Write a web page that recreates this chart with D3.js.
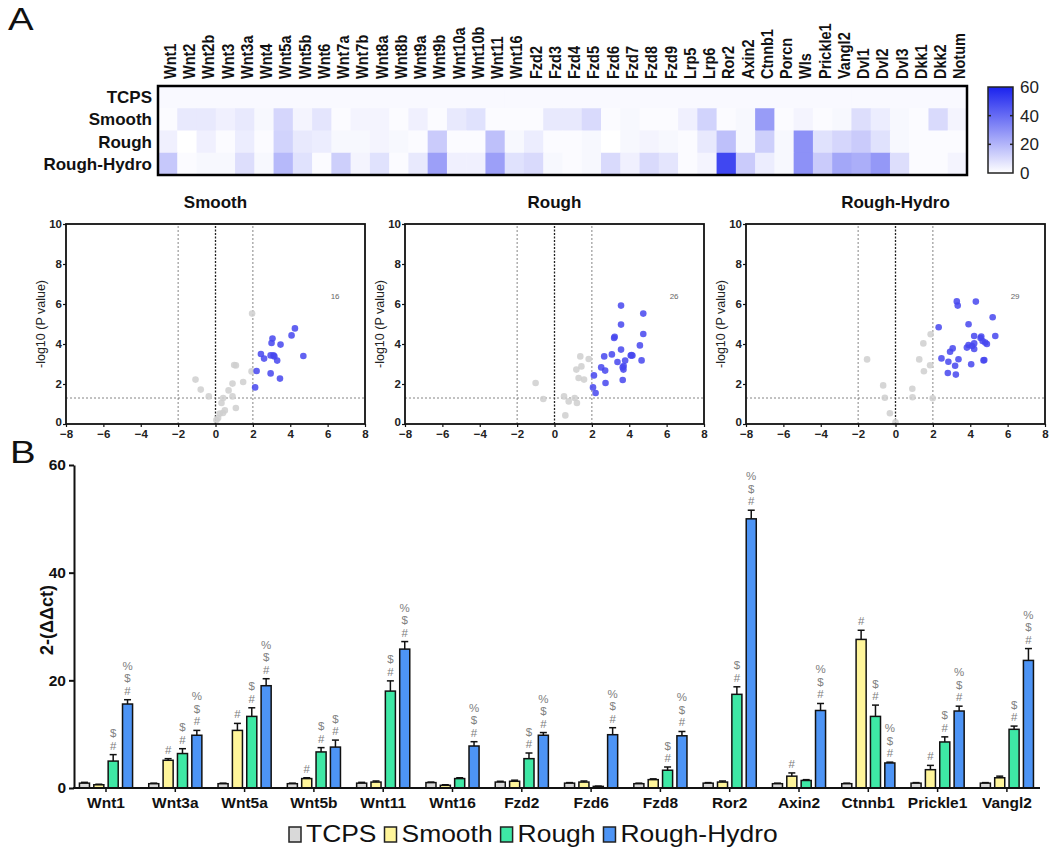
<!DOCTYPE html>
<html><head><meta charset="utf-8">
<script src="https://cdn.jsdelivr.net/npm/d3@7"></script>
<style>body{margin:0;background:#fff} svg{display:block;font-family:Arial,"Liberation Sans",Helvetica,sans-serif}</style>
</head><body><svg id="c" width="1050" height="865"></svg>
<script>
// ---------------- Heatmap data ----------------
const heatGenes = ["Wnt1","Wnt2","Wnt2b","Wnt3","Wnt3a","Wnt4","Wnt5a","Wnt5b","Wnt6","Wnt7a","Wnt7b","Wnt8a","Wnt8b","Wnt9a","Wnt9b","Wnt10a","Wnt10b","Wnt11","Wnt16","Fzd2","Fzd3","Fzd4","Fzd5","Fzd6","Fzd7","Fzd8","Fzd9","Lrp5","Lrp6","Ror2","Axin2","Ctnnb1","Porcn","Wls","Prickle1","Vangl2","Dvl1","Dvl2","Dvl3","Dkk1","Dkk2","Notum"];
const heatRows = ["TCPS","Smooth","Rough","Rough-Hydro"];
const heatTCPS   = [1.5,1.5,1.5,1.5,1.5,1.5,1.5,1.5,1.5,1.5,1.5,1.5,1.5,1.5,1.5,1.5,1.5,1.5,1.5,1.5,1.5,1.5,1.5,1.5,1.5,1.5,1.5,1.5,1.5,1.5,1.5,1.5,1.5,1.5,1.5,1.5,1.5,1.5,1.5,1.5,1.5,1.5];
const heatSmooth = [1,6,6,4,6,2,11,3,7,1,3,3,1,4,1,6,8,1,1,1,6,6,10,1,2,1,1,4,12,1,2,27,1,3,1,2,9,5,2,1,10,3];
const heatRough  = [4,0,4,1,5,1,12,6,5,2,2,3,2,1,14,1,1,17,2,5,1,1,2,0,2,3,2,1,6,17,2,13,2,30,8,11,14,8,2,1,1,1];
const heatRH     = [15,1,2,2,9,2,19,8,1,13,3,8,1,6,26,4,4,26,8,10,2,1,2,10,4,10,7,1,3,50,14,5,2,30,14,24,22,28,9,1,1,3];
const colorTicks = [0,20,40,60];

// ---------------- Volcano data ([log2FC, -log10 P]) ----------------
const smoothSig = [[4.25,4.78],[4.07,4.43],[3.0,4.05],[3.05,4.27],[3.48,3.97],[2.43,3.5],[2.6,3.27],[2.95,3.43],[3.1,3.43],[3.3,3.17],[4.7,3.4],[2.2,2.65],[2.95,2.53],[3.45,2.27],[2.12,1.83],[3.15,3.38]];
const smoothNS  = [[1.96,5.52],[1.09,2.93],[1.0,2.95],[1.93,2.63],[1.48,2.1],[0.91,2.02],[-1.07,2.22],[-0.79,1.72],[0.7,1.68],[-0.36,1.38],[0.91,1.38],[0.41,1.3],[0.32,1.05],[0.5,0.68],[0.23,0.52],[0.14,0.3],[1.09,0.8],[0.05,0.2],[0.4,0.55]];
const roughSig  = [[3.56,5.92],[4.75,5.52],[3.56,4.97],[3.19,4.3],[3.22,4.36],[4.75,4.5],[4.57,3.93],[3.56,3.72],[3.07,3.48],[2.66,3.38],[4.08,3.42],[4.17,3.42],[3.37,3.1],[3.78,3.17],[4.66,3.18],[2.5,2.83],[2.71,2.67],[3.65,2.83],[3.69,2.72],[2.11,2.43],[3.65,2.2],[2.73,2.05],[2.06,1.83],[2.2,1.55],[3.7,2.9],[4.12,3.45]];
const roughNS   = [[1.38,3.38],[1.44,2.88],[1.83,3.25],[1.17,2.72],[1.29,2.3],[1.58,2.22],[-1.01,2.05],[-0.6,1.25],[0.51,1.38],[0.76,1.13],[1.08,1.3],[1.2,1.05],[0.58,0.43]];
const rhSig     = [[3.28,6.13],[4.3,6.12],[3.33,5.92],[5.2,5.34],[2.31,4.84],[3.91,4.99],[4.21,4.4],[4.59,4.37],[5.34,4.4],[4.66,4.15],[4.8,4.07],[4.89,4.0],[4.21,4.03],[3.91,3.95],[3.82,3.82],[4.21,3.75],[3.06,3.78],[2.92,3.61],[2.46,3.28],[3.37,3.24],[4.71,3.18],[4.05,2.99],[2.83,3.11],[3.19,2.91],[2.8,2.55],[3.23,2.47],[4.55,4.3],[4.1,3.9],[4.75,3.2]];
const rhNS      = [[1.88,4.49],[1.49,4.03],[1.27,3.23],[-1.52,3.23],[1.85,2.94],[1.52,2.64],[-0.66,1.93],[0.9,1.76],[-0.57,1.31],[0.91,1.34],[1.99,1.29],[-0.3,0.54],[0,0.08]];
const volcanoTitles = ["Smooth","Rough","Rough-Hydro"];
const volcanoCounts = ["16","26","29"];
const volcanoXTicks = [-8,-6,-4,-2,0,2,4,6,8];
const volcanoYTicks = [0,2,4,6,8,10];

// ---------------- Bar chart data ----------------
const barGenes = ["Wnt1","Wnt3a","Wnt5a","Wnt5b","Wnt11","Wnt16","Fzd2","Fzd6","Fzd8","Ror2","Axin2","Ctnnb1","Prickle1","Vangl2"];
const seriesNames = ["TCPS","Smooth","Rough","Rough-Hydro"];
const tcpsVals   = [0.9,0.8,0.8,0.8,0.9,1.0,1.1,0.9,0.8,0.9,0.8,0.8,0.9,0.9];
const tcpsErr    = [0.15,0.1,0.1,0.1,0.15,0.1,0.15,0.1,0.1,0.1,0.1,0.1,0.1,0.1];
const smoothVals = [0.6,5.15,10.7,1.75,1.1,0.5,1.25,1.1,1.55,1.1,2.2,27.6,3.4,1.9];
const smoothErr  = [0.1,0.3,1.3,0.15,0.2,0.1,0.2,0.2,0.15,0.2,0.6,1.7,0.8,0.3];
const roughVals  = [5.0,6.4,13.3,6.7,18.0,1.75,5.45,0.3,3.3,17.4,1.4,13.3,8.55,10.9];
const roughErr   = [1.2,0.9,1.6,0.8,1.9,0.15,1.05,0.05,0.6,1.4,0.15,2.1,0.95,0.6];
const rhVals     = [15.6,9.8,19.0,7.6,25.8,7.8,9.8,9.9,9.7,50.0,14.4,4.65,14.3,23.7];
const rhErr      = [0.8,0.9,1.3,1.3,1.4,0.8,0.5,1.3,0.8,1.6,1.3,0.15,0.9,2.2];
const tcpsMarks   = ["","","","","","","","","","","","","",""];
const smoothMarks = ["","#","#","#","","","","","","","#","#","#",""];
const roughMarks  = ["#$","#$","#$","#$","#$","","#$","","#$","#$","","#$","#$","#$"];
const rhMarks     = ["#$%","#$%","#$%","#$","#$%","#$%","#$%","#$%","#$%","#$%","#$%","#$%","#$%","#$%"];
const barYTicks = [0,20,40,60];
const seriesColors = ["#d9d9d9","#fff59a","#3ee8a5","#4d94f5"];

// ================= drawing =================
const svg = d3.select("#c");
svg.append("rect").attr("width",1050).attr("height",865).attr("fill","#fff");

svg.append("text").attr("transform","translate(8,30) scale(1.2,1)").attr("font-size",32).attr("fill","#111").text("A");
svg.append("text").attr("transform","translate(10,463) scale(1.2,1)").attr("font-size",32).attr("fill","#111").text("B");

// ---- Heatmap ----
const hx = d3.scaleBand().domain(heatGenes).range([158,967]);
const hy = d3.scaleBand().domain(heatRows).range([86,175]);
const hColor = d3.scaleLinear().domain([0,60]).range(["#ffffff","#1a22ee"]);
const heatValues = [heatTCPS, heatSmooth, heatRough, heatRH];
const heatCells = [];
heatRows.forEach((r,ri)=>heatGenes.forEach((g,gi)=>heatCells.push({r,g,v:heatValues[ri][gi]})));
svg.append("g").selectAll("rect").data(heatCells).join("rect")
  .attr("x",d=>hx(d.g)).attr("y",d=>hy(d.r))
  .attr("width",hx.bandwidth()+0.6).attr("height",hy.bandwidth()+0.6)
  .attr("fill",d=>hColor(d.v));
svg.append("rect").attr("x",158).attr("y",86).attr("width",809).attr("height",89)
  .attr("fill","none").attr("stroke","#000").attr("stroke-width",2.5);
svg.append("g").selectAll("text").data(heatGenes).join("text")
  .attr("transform",d=>`translate(${hx(d)+hx.bandwidth()/2+2},79) scale(1.2,1) rotate(-90)`)
  .attr("dy","0.35em").attr("font-size",14.5).attr("font-weight","bold").attr("fill","#111").text(d=>d);
svg.append("g").selectAll("text").data(heatRows).join("text")
  .attr("x",152).attr("y",d=>hy(d)+hy.bandwidth()/2+6)
  .attr("text-anchor","end").attr("font-size",17).attr("font-weight","bold").attr("fill","#111").text(d=>d);

// colour bar
const defs = svg.append("defs");
const grad = defs.append("linearGradient").attr("id","cb").attr("x1",0).attr("x2",0).attr("y1",1).attr("y2",0);
grad.append("stop").attr("offset","0%").attr("stop-color",hColor(0));
grad.append("stop").attr("offset","100%").attr("stop-color",hColor(60));
const cScale = d3.scaleLinear().domain([0,60]).range([173,87]);
svg.append("rect").attr("x",988).attr("y",87).attr("width",25).attr("height",86)
  .attr("fill","url(#cb)").attr("stroke","#222").attr("stroke-width",1.5);
colorTicks.forEach(t=>{
  if(t>0 && t<60){
    svg.append("line").attr("x1",988).attr("x2",991).attr("y1",cScale(t)).attr("y2",cScale(t)).attr("stroke","#222").attr("stroke-width",1.5);
    svg.append("line").attr("x1",1010).attr("x2",1013).attr("y1",cScale(t)).attr("y2",cScale(t)).attr("stroke","#222").attr("stroke-width",1.5);
  }
  svg.append("text").attr("x",1020).attr("y",cScale(t)+6).attr("font-size",17).attr("fill","#222").text(t);
});

// ---- Volcano plots ----
const volcanoSig = [smoothSig, roughSig, rhSig];
const volcanoNS = [smoothNS, roughNS, rhNS];
const volcanoLeft = [66, 405, 746];
volcanoTitles.forEach((title,pi)=>{
  const L = volcanoLeft[pi];
  const x = d3.scaleLinear().domain([-8,8]).range([L, L+299]);
  const y = d3.scaleLinear().domain([0,10]).range([424,224]);
  const g = svg.append("g");
  g.append("text").attr("x",x(0)).attr("y",208).attr("text-anchor","middle")
    .attr("font-size",17).attr("font-weight","bold").attr("fill","#111").text(title);
  [-2,2].forEach(v=>g.append("line").attr("x1",x(v)).attr("x2",x(v)).attr("y1",y(0)).attr("y2",y(10))
    .attr("stroke","#777").attr("stroke-width",0.9).attr("stroke-dasharray","2,2"));
  g.append("line").attr("x1",x(0)).attr("x2",x(0)).attr("y1",y(0)).attr("y2",y(10))
    .attr("stroke","#222").attr("stroke-width",1.3).attr("stroke-dasharray","2,1.5");
  g.append("line").attr("x1",x(-8)).attr("x2",x(8)).attr("y1",y(1.3)).attr("y2",y(1.3))
    .attr("stroke","#777").attr("stroke-width",0.9).attr("stroke-dasharray","2,2");
  g.append("g").selectAll("circle").data(volcanoNS[pi]).join("circle")
    .attr("cx",d=>x(d[0])).attr("cy",d=>y(d[1])).attr("r",3.3).attr("fill","#cfcfcf").attr("opacity",0.85);
  g.append("g").selectAll("circle").data(volcanoSig[pi]).join("circle")
    .attr("cx",d=>x(d[0])).attr("cy",d=>y(d[1])).attr("r",3.3).attr("fill","#4646ef").attr("opacity",0.85);
  g.append("g").attr("opacity",0.99).append("text").attr("x",x(6.4)).attr("y",y(6.4)+3).attr("text-anchor","middle")
    .attr("font-size",8).attr("fill","#666").text(volcanoCounts[pi]);
  g.append("rect").attr("x",x(-8)).attr("y",y(10)).attr("width",x(8)-x(-8)).attr("height",y(0)-y(10))
    .attr("fill","none").attr("stroke","#111").attr("stroke-width",1.8);
  const xa = g.append("g").attr("transform",`translate(0,${y(0)})`)
    .call(d3.axisBottom(x).tickValues(volcanoXTicks).tickSize(3).tickPadding(3).tickSizeOuter(0));
  const ya = g.append("g").attr("transform",`translate(${x(-8)},0)`)
    .call(d3.axisLeft(y).tickValues(volcanoYTicks).tickSize(3).tickPadding(1).tickSizeOuter(0));
  [xa,ya].forEach(a=>{
    a.select(".domain").remove();
    a.selectAll("line").attr("stroke","#111").attr("stroke-width",1.2);
    a.selectAll("text").attr("font-size",11.5).attr("font-weight","bold").attr("fill","#222")
      .attr("font-family","Arial, 'Liberation Sans', sans-serif");
  });
  // lift the y-axis "0" label slightly so it clears the x-axis labels
  ya.selectAll(".tick").filter(d=>d===0).select("text").attr("dy","0.1em");
  g.append("text").attr("transform",`translate(${L-21},${y(5)}) rotate(-90)`).attr("text-anchor","middle")
    .attr("font-size",12.5).attr("fill","#222").text("-log10 (P value)");
});

// ---- Bar chart ----
const xb = d3.scaleBand().domain(barGenes).range([71.35,1041.55]);
const xs = d3.scaleBand().domain(seriesNames).range([-28,28]).paddingInner(0.3).paddingOuter(0.1);
const yb = d3.scaleLinear().domain([0,60]).range([788,465]);
const barVals = [tcpsVals, smoothVals, roughVals, rhVals];
const barErrs = [tcpsErr, smoothErr, roughErr, rhErr];
const barMarks = [tcpsMarks, smoothMarks, roughMarks, rhMarks];
const bars = [];
seriesNames.forEach((s,si)=>barGenes.forEach((g,gi)=>bars.push({s,si,g,v:barVals[si][gi],e:barErrs[si][gi],m:barMarks[si][gi]})));
const bx = d=>xb(d.g)+xb.bandwidth()/2+xs(d.s);
const bg = svg.append("g");
bg.selectAll("line.err").data(bars).join("line").attr("class","err")
  .attr("x1",d=>bx(d)+xs.bandwidth()/2).attr("x2",d=>bx(d)+xs.bandwidth()/2)
  .attr("y1",d=>yb(d.v)).attr("y2",d=>yb(d.v+d.e)).attr("stroke","#111").attr("stroke-width",1.5);
bg.selectAll("line.cap").data(bars).join("line").attr("class","cap")
  .attr("x1",d=>bx(d)+xs.bandwidth()/2-3.5).attr("x2",d=>bx(d)+xs.bandwidth()/2+3.5)
  .attr("y1",d=>yb(d.v+d.e)).attr("y2",d=>yb(d.v+d.e)).attr("stroke","#111").attr("stroke-width",1.5);
bg.selectAll("rect").data(bars).join("rect")
  .attr("x",bx).attr("y",d=>yb(d.v)).attr("width",xs.bandwidth()).attr("height",d=>yb(0)-yb(d.v))
  .attr("fill",d=>seriesColors[d.si]).attr("stroke","#111").attr("stroke-width",1.5);
const mg = svg.append("g").attr("opacity",0.99);
bars.forEach(d=>{
  d.m.split("").forEach((ch,k)=>{
    mg.append("text").attr("x",bx(d)+xs.bandwidth()/2).attr("y",yb(d.v+d.e)-5-k*12.5)
      .attr("text-anchor","middle").attr("font-size",11.5).attr("fill","#808080").text(ch);
  });
});
const yAx = svg.append("g").attr("transform","translate(74,0)")
  .call(d3.axisLeft(yb).tickValues(barYTicks).tickSize(5).tickPadding(3).tickSizeOuter(0));
yAx.select(".domain").attr("stroke","#111").attr("stroke-width",2);
yAx.selectAll("line").attr("stroke","#111").attr("stroke-width",2);
yAx.selectAll("text").attr("font-size",15.5).attr("font-weight","bold").attr("fill","#111")
  .attr("font-family","Arial, 'Liberation Sans', sans-serif");
svg.append("line").attr("x1",73).attr("x2",1040).attr("y1",yb(0)).attr("y2",yb(0)).attr("stroke","#111").attr("stroke-width",2);
const xAx = svg.append("g").attr("transform",`translate(0,${yb(0)})`)
  .call(d3.axisBottom(xb).tickSize(4).tickPadding(5).tickSizeOuter(0));
xAx.select(".domain").remove();
xAx.selectAll("line").attr("stroke","#111").attr("stroke-width",1.5);
xAx.selectAll("text").attr("font-size",15.5).attr("font-weight","bold").attr("fill","#111")
  .attr("font-family","Arial, 'Liberation Sans', sans-serif");
svg.append("text").attr("transform","translate(53,620) rotate(-90)").attr("text-anchor","middle")
  .attr("font-size",18).attr("font-weight","bold").attr("fill","#111").text("2-(ΔΔct)");

// legend
let lx = 289;
seriesNames.forEach((s,si)=>{
  svg.append("rect").attr("x",lx).attr("y",827).attr("width",12).attr("height",15)
    .attr("fill",seriesColors[si]).attr("stroke","#222").attr("stroke-width",1.5);
  const t = svg.append("text").attr("transform",`translate(${lx+17},842) scale(1.15,1)`)
    .attr("font-size",23).attr("fill","#111").text(s);
  const w = t.node().getComputedTextLength()*1.15;
  lx += 17 + w + 8;
});
</script></body></html>
